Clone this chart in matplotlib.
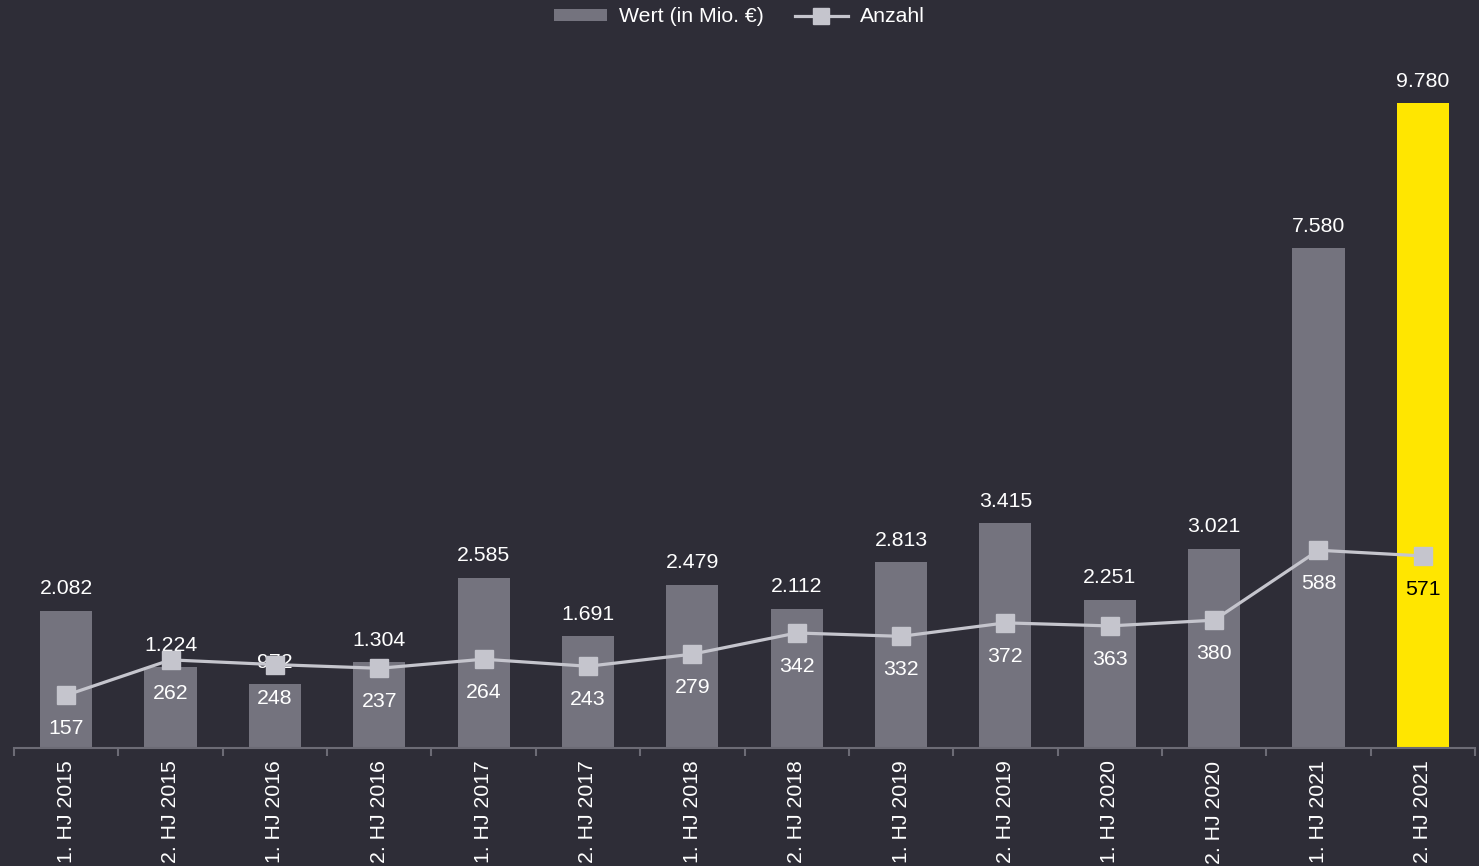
import numpy as np
import matplotlib.pyplot as plt
from matplotlib.lines import Line2D
from matplotlib.patches import Patch

plt.rcParams['font.family'] = ['Liberation Sans', 'DejaVu Sans']

perioden = ['1. HJ 2015', '2. HJ 2015', '1. HJ 2016', '2. HJ 2016', '1. HJ 2017',
            '2. HJ 2017', '1. HJ 2018', '2. HJ 2018', '1. HJ 2019', '2. HJ 2019',
            '1. HJ 2020', '2. HJ 2020', '1. HJ 2021', '2. HJ 2021']
wert = [2082, 1224, 972, 1304, 2585, 1691, 2479, 2112, 2813, 3415, 2251, 3021, 7580, 9780]
anzahl = [157, 262, 248, 237, 264, 243, 279, 342, 332, 372, 363, 380, 588, 571]

bg = '#2e2d37'
bar_col = '#74737e'
yellow = '#ffe600'
line_col = '#c5c5cd'


def de_fmt(v):
    return f'{v:,}'.replace(',', '.')


W, H = 1479, 866
fig = plt.figure(figsize=(W / 100, H / 100), dpi=100, facecolor=bg)
ax = fig.add_axes([14 / W, 1 - 748 / H, (1475 - 14) / W, (748 - 40) / H])
ax.set_facecolor(bg)
ax2 = ax.twinx()

x = np.arange(len(perioden))
colors = [bar_col] * (len(perioden) - 1) + [yellow]
ax.bar(x, wert, width=0.5, color=colors, zorder=2)
ax.set_xlim(-0.5, len(perioden) - 0.5)
ax.set_ylim(0, 10735)
ax2.set_ylim(0, 2105)

for xi, v in zip(x, wert):
    ax.text(xi, v + 330, de_fmt(v), ha='center', va='center', color='white', fontsize=15.3)

ax2.plot(x, anzahl, color=line_col, lw=2.3, marker='s', markersize=13, zorder=3)
for i, (xi, v) in enumerate(zip(x, anzahl)):
    c = 'black' if i == len(perioden) - 1 else 'white'
    ax2.text(xi, v - 100, str(v), ha='center', va='center', color=c, fontsize=15.3)

for a in (ax, ax2):
    for s in ['top', 'right', 'left']:
        a.spines[s].set_visible(False)
    a.set_yticks([])
ax2.spines['bottom'].set_visible(False)
ax.spines['bottom'].set_color('#6c6b75')
ax.spines['bottom'].set_linewidth(1.5)

ax.set_xticks(x, labels=perioden, rotation=90, color='white', fontsize=15.3)
ax.tick_params(axis='x', which='major', length=0, pad=9, colors='white')
ax.set_xticks(np.arange(-0.5, len(perioden)), minor=True)
ax.tick_params(axis='x', which='minor', length=6, width=1.5, color='#6c6b75')
for lbl in ax.get_xticklabels():
    lbl.set_va('top')

handles = [Patch(facecolor=bar_col, label='Wert (in Mio. €)'),
           Line2D([0], [0], color=line_col, lw=2.3, marker='s', markersize=11, label='Anzahl')]
fig.legend(handles=handles, loc='center', bbox_to_anchor=(0.5, 1 - 17 / H), ncol=2,
           frameon=False, fontsize=15.3, labelcolor='white', handlelength=2.5,
           handleheight=0.5, columnspacing=1.45, handletextpad=0.58)

fig.savefig('out.png', dpi=100, facecolor=bg)
